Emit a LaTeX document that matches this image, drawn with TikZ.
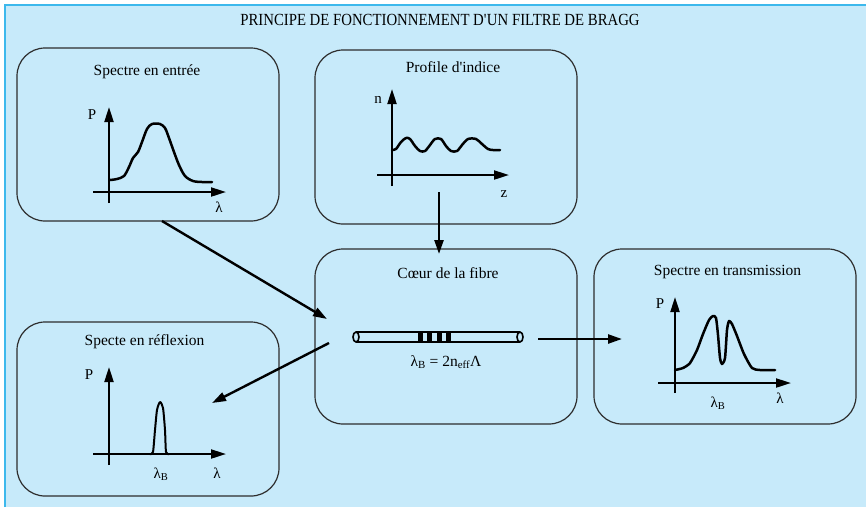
\documentclass[tikz,border=0pt]{standalone}
\usepackage{fontspec}
\setmainfont{Liberation Serif}
\newfontfamily\condfont{Liberation Serif}[FakeStretch=0.87]
\usetikzlibrary{arrows.meta}
\definecolor{bg}{RGB}{199,234,250}
\definecolor{frameblue}{RGB}{60,184,236}
\definecolor{boxline}{RGB}{45,45,45}
\begin{document}
\begin{tikzpicture}[x=1pt,y=-1pt,
  box/.style={draw=boxline, line width=1.2pt, rounded corners=28pt, minimum width=262pt, inner sep=0pt},
  lbl/.style={font=\fontsize{15.5}{18}\selectfont, inner sep=0pt},
  axlbl/.style={font=\fontsize{15}{18}\selectfont, inner sep=0pt},
  axis/.style={line width=2pt, -{Triangle[length=15pt,width=9pt]}},
  curve/.style={line width=2.5pt, line join=round, line cap=round},
  conn/.style={line width=2.4pt, -{Triangle[length=14pt,width=9pt]}}]
\useasboundingbox (0,0) rectangle (866,507);
\fill[bg] (5,5) rectangle (866,507);
\draw[frameblue, line width=1.5pt] (5,507) -- (5,5) -- (866,5);

% title
\node[inner sep=0pt, font=\condfont\fontsize{17}{20}\selectfont] (title) at (440,20) {PRINCIPE DE FONCTIONNEMENT D\textquotesingle UN FILTRE DE BRAGG};

% boxes
\node[box, minimum height=173pt] (b1) at (148,134.5) {};
\node[box, minimum height=174pt] (b2) at (446,137) {};
\node[box, minimum height=175pt] (b3) at (446,336.5) {};
\node[box, minimum height=175pt] (b4) at (725,336.5) {};
\node[box, minimum height=174pt] (b5) at (148,409) {};

% box titles
\node[lbl] (t1) at (147,72) {Spectre en entrée};
\node[lbl] (t2) at (453,67) {Profile d\textquotesingle indice};
\node[lbl] (t3) at (448,273) {Cœur de la fibre};
\node[lbl] (t4) at (727.5,272) {Spectre en transmission};
\node[lbl] (t5) at (144.5,342) {Specte en réflexion};

% plot 1 : input spectrum
\draw[axis] (109,203) -- (109,107);
\draw[axis] (93,192) -- (226,192);
\node[axlbl] (p1) at (92,115) {P};
\node[axlbl] (l1) at (219,207) {λ};
\draw[curve] plot[smooth, tension=0.5] coordinates {(110,180) (117,179) (124,176) (129,167) (133,158) (138,152) (142,142) (147,129) (152,124) (160,124) (165,128) (169,138) (174,152) (179,165) (185,176) (193,181) (202,182) (212,182)};

% plot 2 : index profile
\draw[axis] (392,186) -- (392,89);
\draw[axis] (377,175) -- (509,175);
\node[axlbl] (n2) at (378,100) {n};
\node[axlbl] (z2) at (504,194) {z};
\draw[curve] plot[smooth, tension=0.5] coordinates {(392,150) (396,149) (401,142) (406,138) (410,139) (415,146) (420,151) (425,151) (430,145) (435,139) (441,139) (446,146) (451,151) (457,151) (462,145) (468,139) (476,139) (482,144) (488,149) (493,150) (500,150)};

% fibre
\draw[line width=1.8pt] (356,332) -- (520,332);
\draw[line width=1.8pt] (356,342) -- (520,342);
\draw[line width=1.6pt, fill=bg] (520,337) ellipse [x radius=3, y radius=5];
\draw[line width=1.6pt, fill=bg] (356,337) ellipse [x radius=3, y radius=5];
\foreach \xa in {418,427,437,446} {
  \fill (\xa,331.5) rectangle ++(5,11);
}
\node[lbl] (f3) at (446,362) {λ\textsubscript{B} = 2n\textsubscript{eff}Λ};

% plot 4 : transmission
\draw[axis] (675,393) -- (675,297);
\draw[axis] (658,383) -- (791,383);
\node[axlbl] (p4) at (660,304) {P};
\node[axlbl] (lb4) at (718,403) {λ\textsubscript{B}};
\node[axlbl] (l4) at (780,398) {λ};
\draw[curve] plot[smooth, tension=0.4] coordinates {(675,370) (683,368) (690,363) (697,350) (703,334) (709,320) (713,316) (716,318) (718,335) (720,358) (722,364) (725,358) (727,330) (729,321) (732,324) (737,336) (744,354) (752,368) (760,370) (775,370)};

% plot 5 : reflection
\draw[axis] (109,465) -- (109,367);
\draw[axis] (93,454) -- (226,454);
\node[axlbl] (p5) at (89,375) {P};
\node[axlbl] (lb5) at (161,474) {λ\textsubscript{B}};
\node[axlbl] (l5) at (217,473) {λ};
\draw[curve, line width=2pt] plot[smooth, tension=0.4] coordinates {(150,454) (153,452) (155,430) (157,410) (160,402) (163,408) (165,430) (166,452) (169,454)};

% connectors
\coordinate (c1s) at (162,221);
\coordinate (c1e) at (327,319);
\coordinate (c2s) at (439,192);
\coordinate (c2e) at (439,254);
\coordinate (c3s) at (538,339);
\coordinate (c3e) at (622,339);
\coordinate (c4s) at (329,343);
\coordinate (c4e) at (212,403);
\draw[conn] (c1s) -- (c1e);
\draw[conn] (c2s) -- (c2e);
\draw[conn] (c3s) -- (c3e);
\draw[conn] (c4s) -- (c4e);
\end{tikzpicture}
\end{document}
